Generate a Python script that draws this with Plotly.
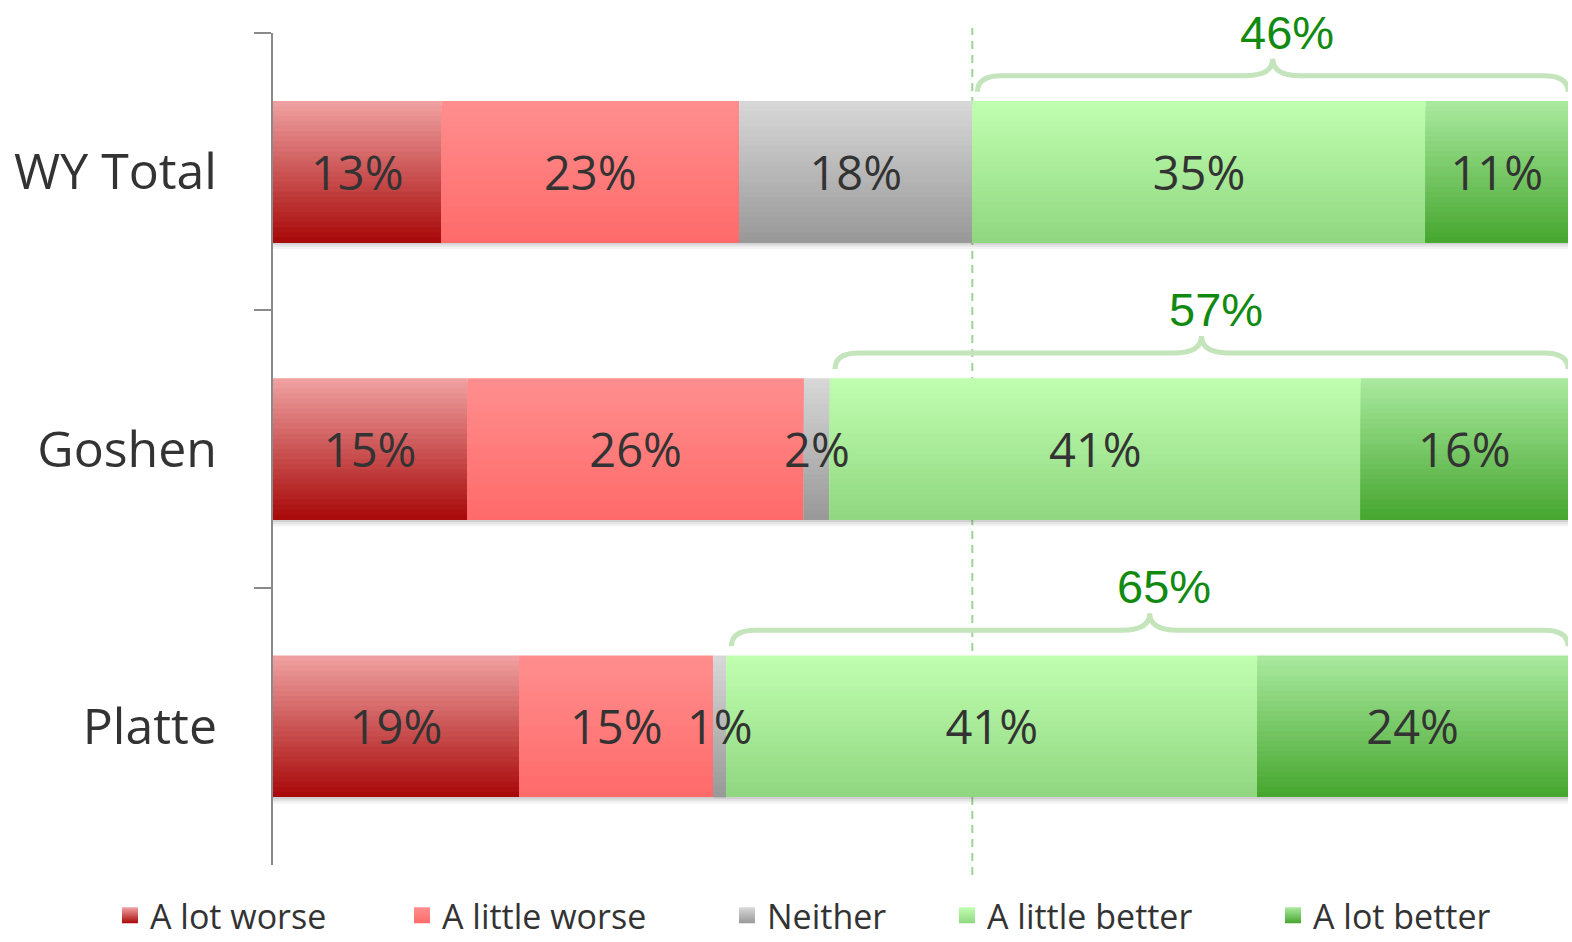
import plotly.graph_objects as go

# ---------------- data ----------------
categories = ["WY Total", "Goshen", "Platte"]
series_names = ["A lot worse", "A little worse", "Neither", "A little better", "A lot better"]
a_lot_worse = [13, 15, 19]
a_little_worse = [23, 26, 15]
neither = [18, 2, 1]
a_little_better = [35, 41, 41]
a_lot_better = [11, 16, 24]
better_totals = [46, 57, 65]

series_values = [a_lot_worse, a_little_worse, neither, a_little_better, a_lot_better]

# gradient colours (top, bottom) per series
grad_top = [(240, 162, 162), (255, 142, 142), (216, 216, 216), (192, 255, 176), (170, 234, 160)]
grad_bot = [(168, 8, 8), (255, 106, 106), (152, 152, 152), (144, 214, 128), (70, 166, 46)]

FONT = "Open Sans"
TEXT_COL = "#333333"
BAR_W = 0.51
K = 28  # gradient strips

def rgb(c):
    return "rgb(%d,%d,%d)" % c

def lerp(c1, c2, t):
    return "rgb(%d,%d,%d)" % tuple(round(a + (b - a) * t) for a, b in zip(c1, c2))

fig = go.Figure()

# cumulative bases
bases = []
run = [0.0] * len(categories)
for vals in series_values:
    bases.append(list(run))
    run = [r + v for r, v in zip(run, vals)]
totals = run
# reference line: where "better" begins for the first category (WY Total)
ref_line_x = bases[3][0]

# shadow under bars
for w, a in [(0.024, 0.06), (0.016, 0.08), (0.008, 0.12)]:
    fig.add_trace(go.Bar(
        y=categories, x=totals, base=[0] * len(categories), orientation="h",
        offset=BAR_W / 2, width=w, marker=dict(color=f"rgba(60,60,70,{a})", line=dict(width=0)),
        showlegend=False, hoverinfo="skip"))

step = BAR_W / K
for si, (name, vals) in enumerate(zip(series_names, series_values)):
    for k in range(K):
        col = lerp(grad_top[si], grad_bot[si], (k + 0.5) / K)
        fig.add_trace(go.Bar(
            y=categories, x=vals, base=bases[si], orientation="h",
            offset=-BAR_W / 2 + k * step, width=BAR_W - k * step,
            marker=dict(color=col, line=dict(width=0)),
            name=name, legendgroup=name,
            showlegend=False, hoverinfo="skip"))

# text labels
for si, (name, vals) in enumerate(zip(series_names, series_values)):
    fig.add_trace(go.Bar(
        y=categories, x=vals, base=bases[si], orientation="h", width=BAR_W,
        marker=dict(color="rgba(0,0,0,0)", line=dict(width=0)),
        text=[f"{v}%" for v in vals], textposition="inside", insidetextanchor="middle",
        textangle=0, constraintext="none",
        textfont=dict(family=FONT, size=47, color=TEXT_COL),
        showlegend=False, legendgroup=name, hovertemplate="%{y}: %{x}%<extra>" + name + "</extra>"))

# legend entries (gradient squares), one legend per entry for exact placement
legend_ids = ["legend", "legend2", "legend3", "legend4", "legend5"]
legend_px = [110, 402, 727, 947, 1273]
for si, name in enumerate(series_names):
    fig.add_trace(go.Scatter(
        x=[None], y=[None], mode="markers", name=name, legendgroup=name,
        legend=legend_ids[si],
        marker=dict(symbol="square", size=24, color=rgb(grad_top[si]),
                    gradient=dict(type="vertical", color=rgb(grad_bot[si])),
                    line=dict(width=0)),
        showlegend=True, hoverinfo="skip"))

# braces and totals for the "better" portion
px_per_unit = 12.95
r_end = 24 / px_per_unit
r_tip = 28 / px_per_unit
shapes = []
annotations = []
for i, cat in enumerate(categories):
    xs = bases[3][i] + 0.4
    xe = totals[i]
    xm = (xs + xe) / 2
    y_end, y_line, y_tip = 80, 96, 113
    path = (f"M {xs},{y_end} Q {xs},{y_line} {xs + r_end},{y_line} "
            f"L {xm - r_tip},{y_line} Q {xm},{y_line} {xm},{y_tip} "
            f"Q {xm},{y_line} {xm + r_tip},{y_line} "
            f"L {xe - r_end},{y_line} Q {xe},{y_line} {xe},{y_end}")
    shapes.append(dict(type="path", path=path, xref="x", yref="y",
                       xsizemode="scaled", ysizemode="pixel", yanchor=i,
                       line=dict(color="#c4e4bc", width=5), layer="above"))
    annotations.append(dict(x=xm, y=i, xref="x", yref="y", yanchor="bottom",
                            xanchor="center", yshift=y_tip - 2, xshift=14,
                            text=f"{better_totals[i]}%", showarrow=False,
                            font=dict(family="Liberation Sans, Arial", size=47, color="#128a12")))

# dashed reference line
shapes.append(dict(type="line", x0=ref_line_x, x1=ref_line_x, xref="x", yref="paper",
                   y0=-0.012, y1=1.006, layer="below",
                   line=dict(color="rgba(120,200,110,0.75)", width=2, dash="8px,6px")))

PLOT_L, PLOT_W = 273, 1295
legend_layouts = {}
for lid, px in zip(legend_ids, legend_px):
    legend_layouts[lid] = dict(
        orientation="h", x=(px - PLOT_L) / PLOT_W, xanchor="left", y=-0.061, yanchor="middle",
        itemsizing="trace", font=dict(family=FONT, size=34, color=TEXT_COL),
        bgcolor="rgba(0,0,0,0)", borderwidth=0)

fig.update_layout(
    width=1572, height=942,
    margin=dict(l=PLOT_L, r=4, t=33, b=77, autoexpand=False),
    paper_bgcolor="white", plot_bgcolor="white",
    barmode="overlay",
    shapes=shapes, annotations=annotations,
    xaxis=dict(range=[0, 100], visible=False, fixedrange=True),
    yaxis=dict(type="category", categoryorder="array", categoryarray=categories,
               range=[2.5, -0.5], showline=True, linecolor="#8a8a8a", linewidth=2,
               ticks="outside", ticklen=17, tickwidth=2, tickcolor="#8a8a8a",
               tickson="boundaries", ticklabelstandoff=44, showgrid=False, zeroline=False,
               tickfont=dict(family=FONT, size=50, color=TEXT_COL)),
    showlegend=True,
    **legend_layouts,
)

fig.write_html("out.html", config={"displayModeBar": False},
               post_script="document.body.style.margin='0';document.body.style.overflow='hidden';")
